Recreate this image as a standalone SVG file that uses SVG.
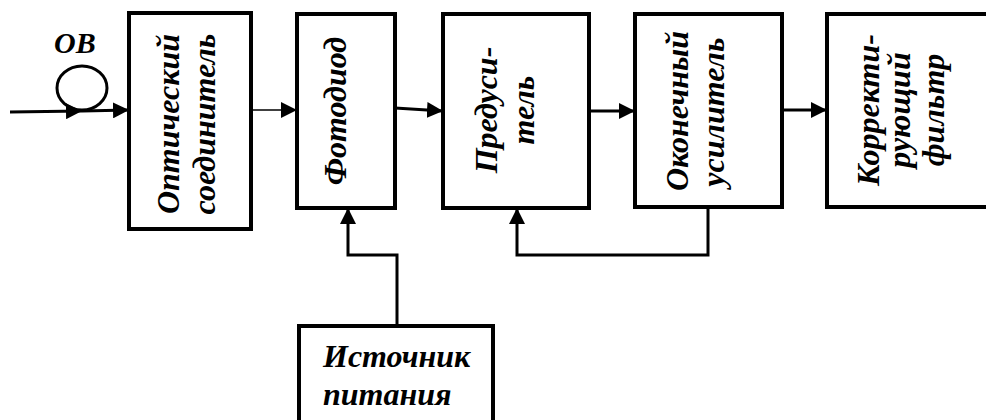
<svg xmlns="http://www.w3.org/2000/svg" width="986" height="420" viewBox="0 0 986 420">
<style>
.box{fill:#fff;stroke:#000;stroke-width:4}
.t{font-family:"Liberation Serif","Times New Roman",serif;font-weight:bold;font-style:italic;font-size:32px;fill:#000}
.v{text-anchor:middle}
.c{fill:none;stroke:#000;stroke-width:3}
.thin{fill:none;stroke:#000;stroke-width:1.5}
</style>
<defs>
<marker id="ah" markerUnits="userSpaceOnUse" markerWidth="16" markerHeight="16" refX="16" refY="8" orient="auto">
<path d="M0,0 L16,8 L0,16 z" fill="#000"/>
</marker>
</defs>
<rect width="986" height="420" fill="#fff"/>
<g id="connectors">
<line class="c" x1="10" y1="112" x2="82" y2="111" marker-end="url(#ah)"/>
<line class="c" x1="82" y1="111" x2="129" y2="110" marker-end="url(#ah)"/>
<line class="thin" x1="251" y1="110" x2="297" y2="110" marker-end="url(#ah)"/>
<line class="c" x1="395" y1="108" x2="443" y2="111" marker-end="url(#ah)"/>
<line class="c" x1="589" y1="111" x2="635" y2="111" marker-end="url(#ah)"/>
<line class="c" x1="782" y1="110" x2="827" y2="110" marker-end="url(#ah)"/>
<polyline class="c" points="397,326 397,255 348,255 348,208" marker-end="url(#ah)"/>
<polyline class="c" points="708,207 708,255 517,255 517,208" marker-end="url(#ah)"/>
</g>
<g id="ov">
<ellipse cx="82" cy="88" rx="25" ry="22" fill="none" stroke="#000" stroke-width="3"/>
<text class="t" x="54" y="53" style="font-size:30px">ОВ</text>
</g>
<g id="n1">
<rect class="box" x="129" y="13" width="122" height="216"/>
<text class="t v" transform="translate(179,124) rotate(-90)">Оптический</text>
<text class="t v" transform="translate(215,124) rotate(-90)">соединитель</text>
</g>
<g id="n2">
<rect class="box" x="297" y="14" width="98" height="194"/>
<text class="t v" transform="translate(346,111) rotate(-90)">Фотодиод</text>
</g>
<g id="n3">
<rect class="box" x="443" y="14" width="146" height="194"/>
<text class="t v" transform="translate(497,110) rotate(-90)">Предуси-</text>
<text class="t v" transform="translate(534,110) rotate(-90)">тель</text>
</g>
<g id="n4">
<rect class="box" x="635" y="14" width="147" height="193"/>
<text class="t v" transform="translate(688,111) rotate(-90)">Оконечный</text>
<text class="t v" transform="translate(724,112) rotate(-90)">усилитель</text>
</g>
<g id="n5">
<rect class="box" x="827" y="14" width="200" height="193"/>
<text class="t v" transform="translate(879,110) rotate(-90)">Корректи-</text>
<text class="t v" transform="translate(910,110) rotate(-90)">рующий</text>
<text class="t v" transform="translate(944,110) rotate(-90)">фильтр</text>
</g>
<g id="n6">
<rect class="box" x="299" y="326" width="194" height="120"/>
<text class="t" x="323" y="367">Источник</text>
<text class="t" x="323" y="405">питания</text>
</g>
</svg>
